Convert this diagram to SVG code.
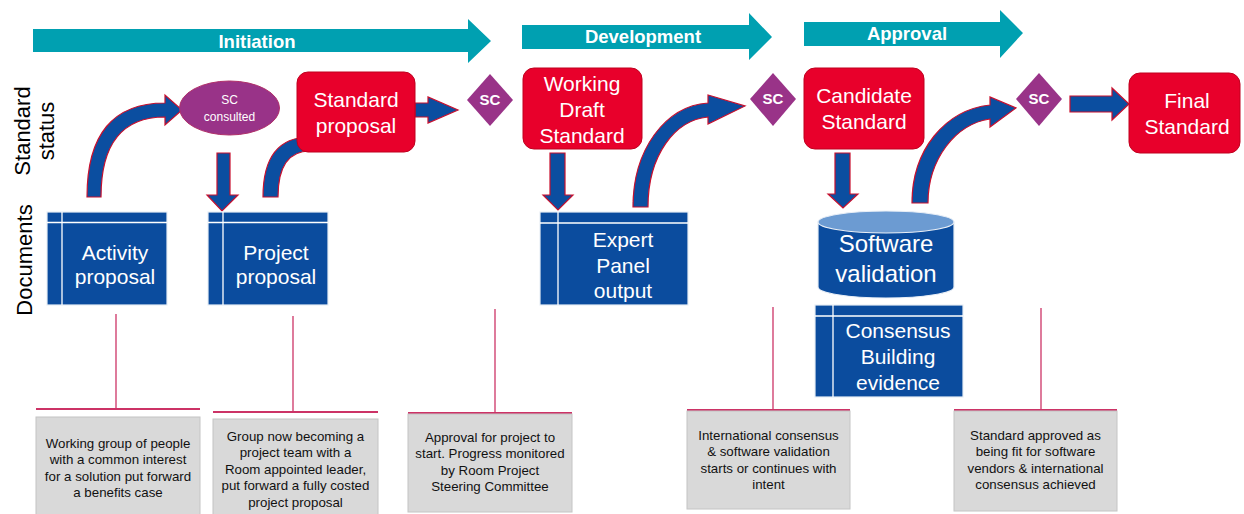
<svg xmlns="http://www.w3.org/2000/svg" width="1244" height="514" viewBox="0 0 1244 514">
<style>
text{font-family:"Liberation Sans",Arial,sans-serif;}
.phase{fill:#00A0B1;}
.phase-t{fill:#fff;font-weight:bold;font-size:18.5px;text-anchor:middle;}
.red{fill:#E8002B;stroke:#C0001E;stroke-width:1;}
.red-t{fill:#fff;font-size:21px;text-anchor:middle;}
.sc{fill:#993388;}
.sc-t{fill:#fff;font-weight:bold;font-size:15px;text-anchor:middle;}
.arr{fill:#0B4EA0;stroke:#C8102E;stroke-width:1.2;stroke-linejoin:miter;}
.doc{fill:#0B4C9E;stroke:#E8EEF6;stroke-width:1.2;}
.docl{stroke:#FFFFFF;stroke-width:1.3;fill:none;}
.doc-t{fill:#fff;font-size:21px;text-anchor:middle;}
.side{fill:#000;font-size:22px;text-anchor:middle;}
.pink{stroke:#CC3366;fill:none;}
.grey{fill:#D9D9D9;stroke:#C4C4C4;stroke-width:1;}
.grey-t{fill:#111;font-size:13.3px;text-anchor:middle;}
</style>

<g id="phases">
  <g id="phase-initiation">
    <polygon class="phase" points="33,29 468,29 468,19 491,41 468,63 468,52 33,52"/>
    <text class="phase-t" x="257" y="48">Initiation</text>
  </g>
  <g id="phase-development">
    <polygon class="phase" points="522,25 749,25 749,13 772,37 749,60 749,49 522,49"/>
    <text class="phase-t" x="643" y="43">Development</text>
  </g>
  <g id="phase-approval">
    <polygon class="phase" points="804,22 1000,22 1000,10 1023,33 1000,58 1000,46 804,46"/>
    <text class="phase-t" x="907" y="40">Approval</text>
  </g>
</g>

<g id="side-labels">
  <text class="side" transform="translate(30,131) rotate(-90)">Standard</text>
  <text class="side" transform="translate(54,131) rotate(-90)">status</text>
  <text class="side" transform="translate(32,260) rotate(-90)">Documents</text>
</g>

<g id="connectors">
  <path class="arr" d="M87,197 Q87,103 165,103 L165,95 L182,110 L165,125 L165,117 Q101,117 101,197 Z"/>
  <path class="arr" d="M263,197 Q263,137 310,137 L310,151 Q278,151 278,197 Z"/>
  <path class="arr" d="M415,103 L428,103 L428,97 L458,110 L428,123 L428,117 L415,117 Z"/>
  <path class="arr" d="M633,207 C633,150 665,106 708,103 L708,95 L745,106 L708,124 L708,117 C675,120 648,155 648,207 Z"/>
  <path class="arr" d="M912,203 C912,150 945,110 990,105 L990,97 L1016,108 L990,127 L990,119 C955,124 928,160 928,203 Z"/>
  <path class="arr" d="M1070,96 L1112,96 L1112,88 L1129,104 L1112,120 L1112,112 L1070,112 Z"/>
  <path class="arr" d="M217,153 L230,153 L230,195 L238,195 L222,211 L207,195 L217,195 Z"/>
  <path class="arr" d="M550,153 L565,153 L565,195 L573,195 L558,210 L543,195 L550,195 Z"/>
  <path class="arr" d="M835,153 L850,153 L850,194 L858,194 L843,208 L828,194 L835,194 Z"/>

  <g id="callout-lines">
    <path class="pink" stroke-width="1.3" d="M116,314 V409"/>
    <path class="pink" stroke-width="2" d="M36,409 H200"/>
    <path class="pink" stroke-width="1.3" d="M293,316 V412"/>
    <path class="pink" stroke-width="2" d="M213,412 H378"/>
    <path class="pink" stroke-width="1.3" d="M495,309 V413"/>
    <path class="pink" stroke-width="2" d="M408,413 H572"/>
    <path class="pink" stroke-width="1.3" d="M773,307 V410"/>
    <path class="pink" stroke-width="2" d="M687,410 H850"/>
    <path class="pink" stroke-width="1.3" d="M1041,308 V410"/>
    <path class="pink" stroke-width="2" d="M954,410 H1117"/>
  </g>
</g>

<g id="sc-consulted">
  <ellipse cx="229.5" cy="108" rx="50" ry="27" fill="#993388" stroke="#B0306A" stroke-width="1"/>
  <text x="229.5" y="104" fill="#fff" font-size="12" text-anchor="middle">SC</text>
  <text x="229.5" y="121" fill="#fff" font-size="12" text-anchor="middle">consulted</text>
</g>

<g id="standard-proposal">
  <rect class="red" x="297" y="72" width="118" height="80" rx="11"/>
  <text class="red-t" x="356" y="107">Standard</text>
  <text class="red-t" x="356" y="133">proposal</text>
</g>

<g id="sc-1">
  <polygon class="sc" points="490,74 513,100 490,126 467,100"/>
  <text class="sc-t" x="490" y="105">SC</text>
</g>

<g id="working-draft">
  <rect class="red" x="523" y="68" width="119" height="81" rx="11"/>
  <text class="red-t" x="582" y="91">Working</text>
  <text class="red-t" x="582" y="117">Draft</text>
  <text class="red-t" x="582" y="143">Standard</text>
</g>

<g id="sc-2">
  <polygon class="sc" points="773,73 796,99 773,126 750,99"/>
  <text class="sc-t" x="773" y="104">SC</text>
</g>

<g id="candidate-standard">
  <rect class="red" x="804" y="68" width="120" height="81" rx="11"/>
  <text class="red-t" x="864" y="103">Candidate</text>
  <text class="red-t" x="864" y="129">Standard</text>
</g>

<g id="sc-3">
  <polygon class="sc" points="1039,73 1062,99 1039,126 1016,99"/>
  <text class="sc-t" x="1039" y="104">SC</text>
</g>

<g id="final-standard">
  <rect class="red" x="1129" y="73" width="111" height="80" rx="11"/>
  <text class="red-t" x="1187" y="108">Final</text>
  <text class="red-t" x="1187" y="134">Standard</text>
</g>

<g id="activity-proposal">
  <rect class="doc" x="47" y="212" width="120" height="93"/>
  <path class="docl" d="M47,222.5 H167 M62,212 V305"/>
  <text class="doc-t" x="115" y="260">Activity</text>
  <text class="doc-t" x="115" y="284">proposal</text>
</g>

<g id="project-proposal">
  <rect class="doc" x="208" y="212" width="120" height="93"/>
  <path class="docl" d="M208,222.5 H328 M223,212 V305"/>
  <text class="doc-t" x="276" y="260">Project</text>
  <text class="doc-t" x="276" y="284">proposal</text>
</g>

<g id="expert-panel-output">
  <rect class="doc" x="540" y="212" width="148" height="93"/>
  <path class="docl" d="M540,223 H688 M558,212 V305"/>
  <text class="doc-t" x="623" y="247">Expert</text>
  <text class="doc-t" x="623" y="273">Panel</text>
  <text class="doc-t" x="623" y="298">output</text>
</g>

<g id="software-validation">
  <path d="M818,222 V287 A68,11 0 0 0 954,287 V222 Z" fill="#0B4C9E" stroke="#E8EEF6" stroke-width="1.2"/>
  <ellipse cx="886" cy="222" rx="68" ry="11" fill="#6C9BD2" stroke="#E8EEF6" stroke-width="1.2"/>
  <text x="886" y="252" fill="#fff" font-size="24" text-anchor="middle">Software</text>
  <text x="886" y="282" fill="#fff" font-size="24" text-anchor="middle">validation</text>
</g>

<g id="consensus-building">
  <rect class="doc" x="815" y="305" width="148" height="92"/>
  <path class="docl" d="M815,316 H963 M833,305 V397"/>
  <text class="doc-t" x="898" y="338">Consensus</text>
  <text class="doc-t" x="898" y="364">Building</text>
  <text class="doc-t" x="898" y="390">evidence</text>
</g>

<g id="note-1">
  <rect class="grey" x="36" y="417" width="164" height="100"/>
  <text class="grey-t" x="118" y="448">Working group of people</text>
  <text class="grey-t" x="118" y="464">with a common interest</text>
  <text class="grey-t" x="118" y="481">for a solution put forward</text>
  <text class="grey-t" x="118" y="497">a benefits case</text>
</g>

<g id="note-2">
  <rect class="grey" x="213" y="419" width="165" height="100"/>
  <text class="grey-t" x="295.5" y="441">Group now becoming a</text>
  <text class="grey-t" x="295.5" y="457">project team with a</text>
  <text class="grey-t" x="295.5" y="474">Room appointed leader,</text>
  <text class="grey-t" x="295.5" y="490">put forward a fully costed</text>
  <text class="grey-t" x="295.5" y="507">project proposal</text>
</g>

<g id="note-3">
  <rect class="grey" x="408" y="414" width="164" height="98"/>
  <text class="grey-t" x="490" y="442">Approval for project to</text>
  <text class="grey-t" x="490" y="458">start. Progress monitored</text>
  <text class="grey-t" x="490" y="475">by Room Project</text>
  <text class="grey-t" x="490" y="491">Steering Committee</text>
</g>

<g id="note-4">
  <rect class="grey" x="687" y="411" width="163" height="98"/>
  <text class="grey-t" x="768.5" y="440">International consensus</text>
  <text class="grey-t" x="768.5" y="456">&amp; software validation</text>
  <text class="grey-t" x="768.5" y="473">starts or continues with</text>
  <text class="grey-t" x="768.5" y="489">intent</text>
</g>

<g id="note-5">
  <rect class="grey" x="954" y="411" width="163" height="100"/>
  <text class="grey-t" x="1035.5" y="440">Standard approved as</text>
  <text class="grey-t" x="1035.5" y="456">being fit for software</text>
  <text class="grey-t" x="1035.5" y="473">vendors &amp; international</text>
  <text class="grey-t" x="1035.5" y="489">consensus achieved</text>
</g>
</svg>
